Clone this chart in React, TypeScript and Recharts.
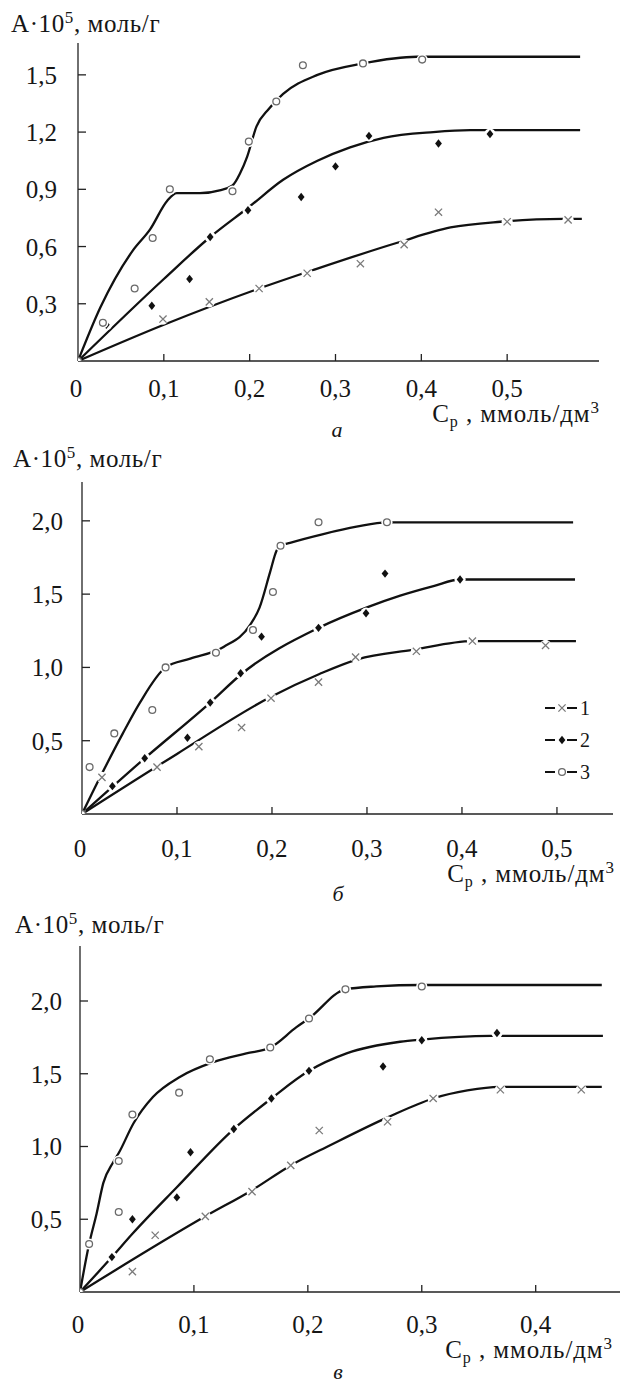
import React from 'react';
import { ComposedChart, Line, Scatter, XAxis, YAxis, Legend } from 'recharts';

type P = [number, number];

// ---------- Panel а ----------
const aXTicks = [0, 0.1, 0.2, 0.3, 0.4, 0.5];
const aYTicks = [0.3, 0.6, 0.9, 1.2, 1.5];
const aCurve1: P[] = [[0, 0], [0.1, 0.19], [0.211, 0.38], [0.274, 0.477], [0.372, 0.62], [0.434, 0.7], [0.492, 0.73], [0.565, 0.745], [0.587, 0.745]];
const aCurve2: P[] = [[0, 0], [0.1, 0.43], [0.154, 0.65], [0.2, 0.81], [0.239, 0.95], [0.279, 1.05], [0.317, 1.12], [0.356, 1.17], [0.414, 1.2], [0.457, 1.21], [0.585, 1.21]];
const aCurve3: P[] = [[0, 0], [0.026, 0.28], [0.064, 0.58], [0.084, 0.69], [0.104, 0.84], [0.115, 0.88], [0.142, 0.88], [0.165, 0.895], [0.18, 0.92], [0.189, 0.985], [0.197, 1.07], [0.208, 1.23], [0.222, 1.32], [0.239, 1.4], [0.279, 1.5], [0.332, 1.56], [0.395, 1.595], [0.585, 1.595]];
const aPts1: P[] = [[0.099, 0.22], [0.153, 0.31], [0.211, 0.38], [0.267, 0.46], [0.329, 0.51], [0.38, 0.61], [0.42, 0.78], [0.5, 0.73], [0.571, 0.74]];
const aPts2: P[] = [[0.033, 0.19], [0.086, 0.29], [0.13, 0.43], [0.154, 0.65], [0.198, 0.79], [0.26, 0.86], [0.3, 1.02], [0.339, 1.18], [0.42, 1.14], [0.48, 1.19]];
const aPts3: P[] = [[0, 0], [0.029, 0.2], [0.066, 0.38], [0.087, 0.645], [0.107, 0.9], [0.18, 0.89], [0.199, 1.15], [0.231, 1.36], [0.262, 1.55], [0.332, 1.56], [0.401, 1.58]];

// ---------- Panel б ----------
const bXTicks = [0, 0.1, 0.2, 0.3, 0.4, 0.5];
const bYTicks = [0.5, 1.0, 1.5, 2.0];
const bCurve1: P[] = [[0, 0], [0.1, 0.41], [0.199, 0.8], [0.25, 0.955], [0.29, 1.055], [0.348, 1.12], [0.411, 1.18], [0.52, 1.18]];
const bCurve2: P[] = [[0, 0], [0.066, 0.38], [0.135, 0.76], [0.167, 0.95], [0.249, 1.27], [0.3, 1.41], [0.335, 1.49], [0.37, 1.555], [0.398, 1.6], [0.519, 1.6]];
const bCurve3: P[] = [[0, 0], [0.019, 0.25], [0.043, 0.55], [0.061, 0.76], [0.088, 1.0], [0.114, 1.06], [0.149, 1.14], [0.177, 1.29], [0.187, 1.41], [0.198, 1.65], [0.205, 1.8], [0.209, 1.83], [0.219, 1.85], [0.254, 1.91], [0.289, 1.96], [0.321, 1.99], [0.517, 1.99]];
const bPts1: P[] = [[0, 0], [0.021, 0.25], [0.079, 0.32], [0.123, 0.46], [0.168, 0.59], [0.199, 0.79], [0.249, 0.9], [0.288, 1.07], [0.352, 1.11], [0.411, 1.18], [0.488, 1.15]];
const bPts2: P[] = [[0.032, 0.19], [0.066, 0.38], [0.111, 0.52], [0.135, 0.76], [0.167, 0.96], [0.189, 1.21], [0.249, 1.27], [0.299, 1.37], [0.319, 1.64], [0.398, 1.6]];
const bPts3: P[] = [[0, 0], [0.008, 0.32], [0.034, 0.55], [0.074, 0.71], [0.088, 1.0], [0.141, 1.1], [0.18, 1.255], [0.201, 1.515], [0.209, 1.83], [0.249, 1.99], [0.321, 1.99]];

// ---------- Panel в ----------
const cXTicks = [0, 0.1, 0.2, 0.3, 0.4];
const cYTicks = [0.5, 1.0, 1.5, 2.0];
const cCurve1: P[] = [[0, 0], [0.11, 0.52], [0.151, 0.7], [0.185, 0.87], [0.22, 1.01], [0.27, 1.2], [0.31, 1.33], [0.34, 1.385], [0.368, 1.41], [0.458, 1.41]];
const cCurve2: P[] = [[0, 0], [0.028, 0.24], [0.046, 0.4], [0.085, 0.72], [0.135, 1.12], [0.168, 1.33], [0.201, 1.52], [0.234, 1.64], [0.281, 1.72], [0.3, 1.735], [0.36, 1.76], [0.459, 1.76]];
const cCurve3: P[] = [[0, 0], [0.008, 0.33], [0.0146, 0.54], [0.0205, 0.75], [0.029, 0.89], [0.034, 0.955], [0.047, 1.16], [0.064, 1.34], [0.088, 1.48], [0.117, 1.58], [0.146, 1.64], [0.167, 1.68], [0.19, 1.82], [0.201, 1.88], [0.233, 2.08], [0.26, 2.1], [0.3, 2.11], [0.458, 2.11]];
const cPts1: P[] = [[0.046, 0.14], [0.066, 0.39], [0.11, 0.52], [0.151, 0.69], [0.185, 0.87], [0.21, 1.11], [0.27, 1.17], [0.31, 1.33], [0.369, 1.39], [0.44, 1.39]];
const cPts2: P[] = [[0.028, 0.24], [0.046, 0.5], [0.085, 0.65], [0.097, 0.96], [0.135, 1.12], [0.168, 1.33], [0.201, 1.52], [0.266, 1.55], [0.3, 1.73], [0.366, 1.78]];
const cPts3: P[] = [[0, 0], [0.008, 0.33], [0.034, 0.55], [0.034, 0.9], [0.046, 1.22], [0.087, 1.37], [0.114, 1.6], [0.167, 1.68], [0.201, 1.88], [0.233, 2.08], [0.3, 2.1]];

const legendLabels = ['1', '2', '3'];
const yTitle = 'A·10';
const yTitleSup = '5';
const yTitleUnit = ', моль/г';
const xTitleMain = 'C';
const xTitleSub = 'р';
const xTitleUnit = ' , ммоль/дм';
const xTitleSup = '3';
const panelLetters = ['а', 'б', 'в'];

const FONT = "'Liberation Serif', 'Times New Roman', 'DejaVu Serif', serif";
const INK = '#161616';
const fontStyle = { fontFamily: FONT };

const toPts = (arr: P[]) => arr.map(([x, y]) => ({ x, y }));
const fmt = (v: number) => (v === 0 ? '0' : v.toFixed(1).replace('.', ','));

const isOrigin = (p: any) => p && p.x === 0 && p.y === 0;

const drawMarker = (kind: number, cx: number, cy: number, halo: boolean) => {
  const h = halo ? <circle cx={cx} cy={cy} r={5.6} fill="#fff" /> : null;
  if (kind === 1) {
    const s = 3.6;
    return (
      <g>
        {h}
        <path d={`M${cx - s},${cy - s}L${cx + s},${cy + s}M${cx + s},${cy - s}L${cx - s},${cy + s}`} stroke="#7a7a7a" strokeWidth={1.3} fill="none" />
      </g>
    );
  }
  if (kind === 2) {
    return (
      <g>
        {h}
        <path d={`M${cx},${cy - 4.2}L${cx + 3.4},${cy}L${cx},${cy + 4.2}L${cx - 3.4},${cy}Z`} fill="#111" />
      </g>
    );
  }
  return (
    <g>
      {h}
      <circle cx={cx} cy={cy} r={3.4} fill="#fff" stroke="#6a6a6a" strokeWidth={1.3} />
    </g>
  );
};

const makeShape = (kind: number) => (props: any) => {
  const { cx, cy, payload } = props;
  if (cx == null || cy == null) return <g />;
  return drawMarker(kind, cx, cy, !isOrigin(payload));
};

const LegendContent = () => (
  <svg width={60} height={100} style={{ display: 'block', overflow: 'visible' }}>
    {legendLabels.map((lab, i) => {
      const cy = 16 + i * 32;
      return (
        <g key={lab}>
          <line x1={5} x2={15} y1={cy} y2={cy} stroke="#111" strokeWidth={2} />
          {drawMarker(i + 1, 22, cy, false)}
          <line x1={27} x2={37} y1={cy} y2={cy} stroke="#111" strokeWidth={2} />
          <text x={40} y={cy + 7} fontSize={20} style={fontStyle} fill={INK}>{lab}</text>
        </g>
      );
    })}
  </svg>
);

type PanelCfg = {
  top: number;
  height: number;
  plotLeft: number;
  plotTop: number;
  plotRight: number;
  plotBottom: number;
  xMax: number;
  yMax: number;
  xTicks: number[];
  yTicks: number[];
  yGap: number;
  xDy: number;
  curves: P[][];
  pts: P[][];
  legend?: boolean;
};

const panels: PanelCfg[] = [
  { top: 0, height: 445, plotLeft: 78, plotTop: 43, plotRight: 599, plotBottom: 361, xMax: 0.607, yMax: 1.667, xTicks: aXTicks, yTicks: aYTicks, yGap: 21, xDy: 36, curves: [aCurve1, aCurve2, aCurve3], pts: [aPts1, aPts2, aPts3] },
  { top: 445, height: 465, plotLeft: 82, plotTop: 37, plotRight: 613, plotBottom: 369, xMax: 0.559, yMax: 2.265, xTicks: bXTicks, yTicks: bYTicks, yGap: 19, xDy: 43, curves: [bCurve1, bCurve2, bCurve3], pts: [bPts1, bPts2, bPts3], legend: true },
  { top: 910, height: 476, plotLeft: 80, plotTop: 36, plotRight: 620, plotBottom: 382, xMax: 0.474, yMax: 2.378, xTicks: cXTicks, yTicks: cYTicks, yGap: 18, xDy: 41, curves: [cCurve1, cCurve2, cCurve3], pts: [cPts1, cPts2, cPts3] },
];

const makeYTick = (gap: number) => (props: any) => {
  const { x, y, payload } = props;
  return (
    <g>
      <line x1={x} x2={x + 8} y1={y} y2={y} stroke="#222" strokeWidth={1.3} />
      <text x={x - gap} y={y} dy={9} textAnchor="end" fontSize={25} style={fontStyle} fill={INK}>{fmt(payload.value)}</text>
    </g>
  );
};

const makeXTick = (dyv: number) => (props: any) => {
  const { x, y, payload } = props;
  return (
    <g>
      {payload.value !== 0 && <line x1={x} x2={x} y1={y} y2={y - 7} stroke="#222" strokeWidth={1.3} />}
      <text x={payload.value === 0 ? x - 2 : x} y={y + dyv} textAnchor="middle" fontSize={25} style={fontStyle} fill={INK}>{fmt(payload.value)}</text>
    </g>
  );
};

const Panel = ({ cfg }: { cfg: PanelCfg }) => (
  <div style={{ position: 'absolute', left: 0, top: cfg.top, width: 624, height: cfg.height }}>
    <ComposedChart
      width={624}
      height={cfg.height}
      margin={{ top: cfg.plotTop, right: 624 - cfg.plotRight, bottom: 0, left: 0 }}
    >
      <XAxis
        type="number"
        dataKey="x"
        domain={[0, cfg.xMax]}
        ticks={cfg.xTicks}
        interval={0}
        allowDataOverflow
        height={cfg.height - cfg.plotBottom}
        tickSize={0}
        tickMargin={0}
        tickLine={false}
        axisLine={{ stroke: '#222', strokeWidth: 1.3 }}
        tick={makeXTick(cfg.xDy)}
      />
      <YAxis
        type="number"
        dataKey="y"
        domain={[0, cfg.yMax]}
        ticks={cfg.yTicks}
        interval={0}
        allowDataOverflow
        width={cfg.plotLeft}
        tickSize={0}
        tickMargin={0}
        tickLine={false}
        axisLine={{ stroke: '#222', strokeWidth: 1.3 }}
        tick={makeYTick(cfg.yGap)}
      />
      {cfg.curves.map((c, i) => (
        <Line
          key={'l' + i}
          data={toPts(c)}
          dataKey="y"
          type="monotone"
          stroke="#111"
          strokeWidth={2.3}
          dot={false}
          activeDot={false}
          isAnimationActive={false}
          legendType="none"
        />
      ))}
      {cfg.pts.map((p, i) => (
        <Scatter
          key={'s' + i}
          data={toPts(p)}
          dataKey="y"
          shape={makeShape(i + 1)}
          isAnimationActive={false}
          legendType="none"
        />
      ))}
      {cfg.legend && (
        <Legend
          layout="vertical"
          align="center"
          verticalAlign="middle"
          content={<LegendContent />}
          wrapperStyle={{ left: 540, top: 247, width: 60, height: 100 }}
        />
      )}
    </ComposedChart>
  </div>
);

const Titles = () => {
  const titlePos = [
    { x: 11, y: 32 },
    { x: 13, y: 467 },
    { x: 15, y: 933 },
  ];
  const xLabPos = [
    { x: 600, y: 422 },
    { x: 615, y: 882 },
    { x: 613, y: 1358 },
  ];
  const letterPos = [
    { x: 337, y: 437 },
    { x: 338, y: 901 },
    { x: 338, y: 1379 },
  ];
  return (
    <svg width={624} height={1386} style={{ position: 'absolute', left: 0, top: 0, pointerEvents: 'none' }}>
      {titlePos.map((p, i) => (
        <text key={'t' + i} x={p.x} y={p.y} fontSize={25} letterSpacing={0.6} style={fontStyle} fill={INK}>
          {yTitle}
          <tspan fontSize={17} dy={-9}>{yTitleSup}</tspan>
          <tspan dy={9}>{yTitleUnit}</tspan>
        </text>
      ))}
      {xLabPos.map((p, i) => (
        <text key={'x' + i} x={p.x} y={p.y} textAnchor="end" fontSize={25} letterSpacing={0.9} style={fontStyle} fill={INK}>
          {xTitleMain}
          <tspan fontSize={16} dy={5}>{xTitleSub}</tspan>
          <tspan dy={-5}>{xTitleUnit}</tspan>
          <tspan fontSize={17} dy={-9}>{xTitleSup}</tspan>
        </text>
      ))}
      {letterPos.map((p, i) => (
        <text key={'p' + i} x={p.x} y={p.y} textAnchor="middle" fontSize={22} fontStyle="italic" style={fontStyle} fill={INK}>
          {panelLetters[i]}
        </text>
      ))}
    </svg>
  );
};

export default function App() {
  return (
    <div style={{ position: 'absolute', left: 0, top: 0, width: 624, height: 1386, background: '#fff', overflow: 'hidden', fontFamily: FONT }}>
      {panels.map((cfg, i) => (
        <Panel key={i} cfg={cfg} />
      ))}
      <Titles />
    </div>
  );
}
